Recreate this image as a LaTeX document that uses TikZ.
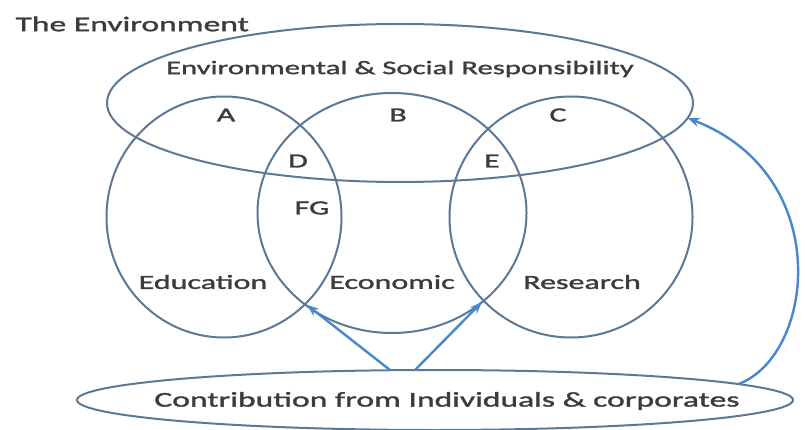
\documentclass[tikz,border=0pt]{standalone}
\usepackage{fontspec}
\setmainfont{Carlito}[FakeStretch=1.6, FakeBold=1.6]
\usepackage{xcolor}
\usetikzlibrary{arrows.meta,shapes.geometric}
\definecolor{ringgray}{RGB}{92, 120, 148}
\definecolor{flowblue}{RGB}{70, 135, 205}
\definecolor{txtgray}{RGB}{60, 60, 60}

\tikzset{
  ring/.style={ellipse, draw=ringgray, line width=2pt, inner sep=0pt, outer sep=0pt},
  lbl/.style={text=txtgray, font=\fontsize{20}{22}\selectfont},
  flow/.style={draw=flowblue, line width=2.4pt, -{Stealth[length=12pt,width=9pt]}}
}

\begin{document}
\begin{tikzpicture}[x=1pt,y=-1pt]
\useasboundingbox (0,0) rectangle (805,430);
% Title
\node[lbl, anchor=west, font=\fontsize{21}{23}\selectfont] (title) at (12,24) {The Environment};
% Circles of the Venn diagram
\node[ring, minimum width=235pt, minimum height=241pt] (edu) at (224,217) {};
\node[ring, minimum width=269pt, minimum height=240pt] (eco) at (392,213) {};
\node[ring, minimum width=243pt, minimum height=241pt] (res) at (571,217) {};
% Responsibility ellipse on top
\node[ring, minimum width=586pt, minimum height=158pt] (resp) at (400,103) {};
\node[lbl, font=\fontsize{19.2}{21}\selectfont] (resptxt) at (400,69) {Environmental \& Social Responsibility};
% Region letters
\node[lbl] (ra) at (226,115) {A};
\node[lbl] (rb) at (398,115) {B};
\node[lbl] (rc) at (558,115) {C};
\node[lbl] (rd) at (298,161) {D};
\node[lbl] (re) at (492,161) {E};
\node[lbl] (rfg) at (312,208) {FG};
% Circle names
\node[lbl] (edutxt) at (203,282) {Education};
\node[lbl] (ecotxt) at (392,282) {Economic};
\node[lbl] (restxt) at (582,282) {Research};
% Contribution ellipse
\node[ring, minimum width=716pt, minimum height=60pt] (contrib) at (435,400) {};
\node[lbl, font=\fontsize{21}{23}\selectfont] (contribtxt) at (447,401) {Contribution from Individuals \& corporates};
% Arrows
\coordinate (edueco) at (307,305);
\coordinate (ecores) at (482,302);
\draw[flow] ([xshift=-45pt]contrib.north) -- (edueco);
\draw[flow] ([xshift=-20pt]contrib.north) -- (ecores);
\draw[flow] (contrib.3) .. controls (815,355) and (835,175) .. (resp.-3);
\end{tikzpicture}
\end{document}
